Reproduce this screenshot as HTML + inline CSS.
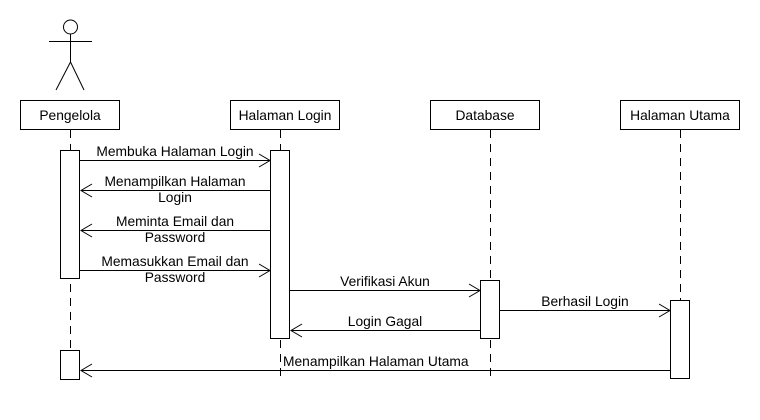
<!DOCTYPE html>
<html><head><style>
html,body{margin:0;padding:0;background:#fff;}
svg{display:block;}
text{font-family:"Liberation Sans",sans-serif;font-size:13.8px;fill:#000;}
</style></head><body>
<svg width="760" height="420" viewBox="0 0 760 420" xmlns="http://www.w3.org/2000/svg">
<g stroke="#000" stroke-width="1" fill="none" shape-rendering="crispEdges">
<g stroke-dasharray="8,6">
<line x1="70.5" y1="130" x2="70.5" y2="382"/>
<line x1="280.5" y1="130" x2="280.5" y2="382"/>
<line x1="490.5" y1="130" x2="490.5" y2="382"/>
<line x1="680.5" y1="130" x2="680.5" y2="300"/>
</g>
<rect x="20.5" y="100.5" width="99" height="29" fill="#fff"/>
<rect x="230.5" y="100.5" width="109" height="29" fill="#fff"/>
<rect x="430.5" y="100.5" width="109" height="29" fill="#fff"/>
<rect x="620.5" y="100.5" width="119" height="29" fill="#fff"/>
<rect x="60.5" y="150.5" width="19" height="128" fill="#fff"/>
<rect x="60.5" y="350.5" width="19" height="29" fill="#fff"/>
<rect x="270.5" y="150.5" width="19" height="188" fill="#fff"/>
<rect x="480.5" y="280.5" width="19" height="58" fill="#fff"/>
<rect x="670.5" y="300.5" width="19" height="78" fill="#fff"/>
<line x1="80" y1="160.5" x2="270" y2="160.5"/>
<line x1="81" y1="190.5" x2="270" y2="190.5"/>
<line x1="81" y1="230.5" x2="270" y2="230.5"/>
<line x1="80" y1="270.5" x2="270" y2="270.5"/>
<line x1="290" y1="290.5" x2="480" y2="290.5"/>
<line x1="500" y1="310.5" x2="670" y2="310.5"/>
<line x1="291" y1="330.5" x2="480" y2="330.5"/>
<line x1="81" y1="370.5" x2="670" y2="370.5"/>
</g>
<g stroke="#000" stroke-width="1" fill="none">
<circle cx="70.5" cy="27" r="7"/>
<line x1="70.5" y1="34" x2="70.5" y2="62"/>
<line x1="49" y1="41.5" x2="92" y2="41.5"/>
<line x1="70.5" y1="62" x2="56" y2="90"/>
<line x1="70.5" y1="62" x2="84" y2="90"/>
<polyline points="259,154 270,160.5 259,167"/>
<polyline points="92,184 81,190.5 92,197"/>
<polyline points="92,224 81,230.5 92,237"/>
<polyline points="259,264 270,270.5 259,277"/>
<polyline points="469,284 480,290.5 469,297"/>
<polyline points="659,304 670,310.5 659,317"/>
<polyline points="302,324 291,330.5 302,337"/>
<polyline points="92,364 81,370.5 92,377"/>
</g>
<text x="70" y="120" text-anchor="middle">Pengelola</text>
<text x="285" y="120" text-anchor="middle">Halaman Login</text>
<text x="485" y="120" text-anchor="middle">Database</text>
<text x="680" y="120" text-anchor="middle">Halaman Utama</text>
<text x="175" y="156" text-anchor="middle">Membuka Halaman Login</text>
<text x="175" y="186" text-anchor="middle">Menampilkan Halaman</text>
<text x="175" y="202" text-anchor="middle">Login</text>
<text x="175" y="226" text-anchor="middle">Meminta Email dan</text>
<text x="175" y="242" text-anchor="middle">Password</text>
<text x="175" y="266" text-anchor="middle">Memasukkan Email dan</text>
<text x="175" y="282" text-anchor="middle">Password</text>
<text x="385" y="286" text-anchor="middle">Verifikasi Akun</text>
<text x="585" y="306" text-anchor="middle">Berhasil Login</text>
<text x="385" y="326" text-anchor="middle">Login Gagal</text>
<text x="283" y="366">Menampilkan Halaman Utama</text>
</svg>
</body></html>
